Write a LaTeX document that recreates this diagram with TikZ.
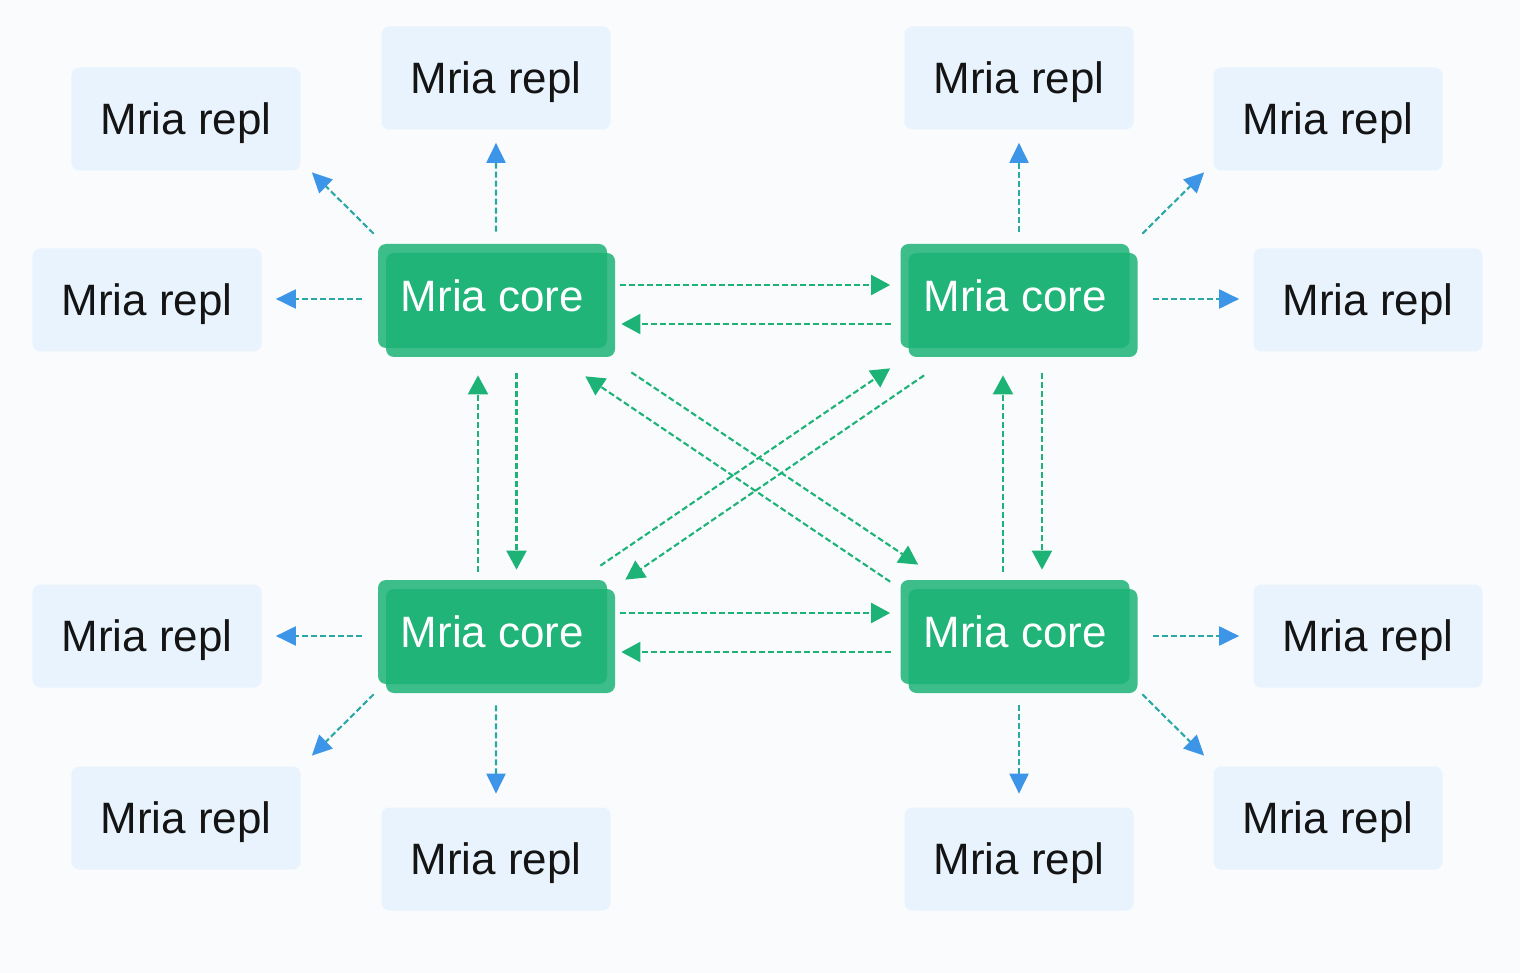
\documentclass[tikz,border=0pt]{standalone}
\usepackage{fontspec}
\setmainfont{Liberation Sans}
\usepackage{xcolor}
\usetikzlibrary{arrows.meta, positioning, calc, shadows}
\definecolor{coregreen}{HTML}{1DB377}
\definecolor{replfill}{HTML}{E8F3FD}
\definecolor{tipblue}{HTML}{3D95E8}
\definecolor{linkteal}{HTML}{2BA8A6}
\definecolor{bgcol}{HTML}{F9FBFD}

\begin{document}
\begin{tikzpicture}[x=0.2mm, y=-0.2mm,
    repl/.style={rectangle, rounded corners=1.6mm, fill=replfill, text=black!92,
        minimum width=45.8mm, minimum height=20.6mm, text depth=0pt,
        font=\fontsize{25}{30}\selectfont},
    core/.style={rectangle, rounded corners=1.6mm, fill=coregreen, fill opacity=.85,
        text opacity=1, text=white, minimum width=45.8mm, minimum height=20.8mm,
        font=\fontsize{25}{30}\selectfont,
        general shadow={fill=coregreen, fill opacity=.85, shadow xshift=1.6mm, shadow yshift=-1.8mm}},
    sync/.style={draw=coregreen, line width=0.42mm, dash pattern=on 1.2mm off 0.6mm,
        -{Triangle[length=3.8mm, width=4mm]}},
    push/.style={draw=linkteal, line width=0.42mm, dash pattern=on 1.2mm off 0.6mm,
        -{Triangle[length=4mm, width=3.8mm, color=tipblue]}}]

    \fill[bgcol] (0,0) rectangle (1520,973);
    \useasboundingbox (0,0) rectangle (1520,973);

    % core nodes
    \node[core] (ctl) at (492.5,296) {Mria core};
    \node[core] (ctr) at (1015,296) {Mria core};
    \node[core] (cbl) at (492.5,632) {Mria core};
    \node[core] (cbr) at (1015,632) {Mria core};

    % replicants
    \node[repl] (rtl-n)  at (496,78)   {Mria repl};
    \node[repl] (rtl-nw) at (186,119)  {Mria repl};
    \node[repl] (rtl-w)  at (147,300)  {Mria repl};
    \node[repl] (rtr-n)  at (1019,78)  {Mria repl};
    \node[repl] (rtr-ne) at (1328,119) {Mria repl};
    \node[repl] (rtr-e)  at (1368,300) {Mria repl};
    \node[repl] (rbl-w)  at (147,636)  {Mria repl};
    \node[repl] (rbl-sw) at (186,818)  {Mria repl};
    \node[repl] (rbl-s)  at (496,859)  {Mria repl};
    \node[repl] (rbr-e)  at (1368,636) {Mria repl};
    \node[repl] (rbr-se) at (1328,818) {Mria repl};
    \node[repl] (rbr-s)  at (1019,859) {Mria repl};

    % core <-> core
    \draw[sync] ($(ctl.east)+(13,-11)$) -- ($(ctr.west)+(-10,-11)$);
    \draw[sync] ($(ctr.west)+(-9,28)$) -- ($(ctl.east)+(14,28)$);
    \draw[sync] ($(cbl.east)+(13,-19)$) -- ($(cbr.west)+(-10,-19)$);
    \draw[sync] ($(cbr.west)+(-9,20)$) -- ($(cbl.east)+(14,20)$);
    \draw[sync] ($(cbl.north)+(-14.5,-8)$) -- ($(ctl.south)+(-14.5,27)$);
    \draw[sync] ($(ctl.south)+(24,25)$) -- ($(cbl.north)+(24,-10)$);
    \draw[sync] ($(cbr.north)+(-12,-8)$) -- ($(ctr.south)+(-12,27)$);
    \draw[sync] ($(ctr.south)+(27,25)$) -- ($(cbr.north)+(27,-10)$);
    \draw[sync] ($(cbl.north east)+(-7,-14)$) -- ($(ctr.south west)+(-10,20)$);
    \draw[sync] ($(ctr.south west)+(24,27)$) -- ($(cbl.north east)+(18,0)$);
    \draw[sync] ($(ctl.south east)+(24,24)$) -- ($(cbr.north west)+(18,-15)$);
    \draw[sync] ($(cbr.north west)+(-10,2)$) -- ($(ctl.south east)+(-22,28)$);

    % core -> replicants
    \draw[push] ($(ctl.north)+(3.5,-12)$) -- ($(rtl-n.south)+(0,13)$);
    \draw[push] ($(ctl.north west)+(-4,-10)$) -- ($(rtl-nw.south east)+(11,1.5)$);
    \draw[push] ($(ctl.west)+(-16,3)$) -- ($(rtl-w.east)+(14,-1)$);
    \draw[push] ($(ctr.north)+(4,-12)$) -- ($(rtr-n.south)+(0,13)$);
    \draw[push] ($(ctr.north east)+(12.5,-10)$) -- ($(rtr-ne.south west)+(-9,1.5)$);
    \draw[push] ($(ctr.east)+(23,3)$) -- ($(rtr-e.west)+(-14,-1)$);
    \draw[push] ($(cbl.west)+(-16,4)$) -- ($(rbl-w.east)+(14,0)$);
    \draw[push] ($(cbl.south west)+(-4,10)$) -- ($(rbl-sw.north east)+(11,-10.5)$);
    \draw[push] ($(cbl.south)+(3.5,21)$) -- ($(rbl-s.north)+(0,-13.5)$);
    \draw[push] ($(cbr.east)+(23,4)$) -- ($(rbr-e.west)+(-14,0)$);
    \draw[push] ($(cbr.south east)+(12.5,10)$) -- ($(rbr-se.north west)+(-9,-10.5)$);
    \draw[push] ($(cbr.south)+(4,21)$) -- ($(rbr-s.north)+(0,-13.5)$);
\end{tikzpicture}
\end{document}
